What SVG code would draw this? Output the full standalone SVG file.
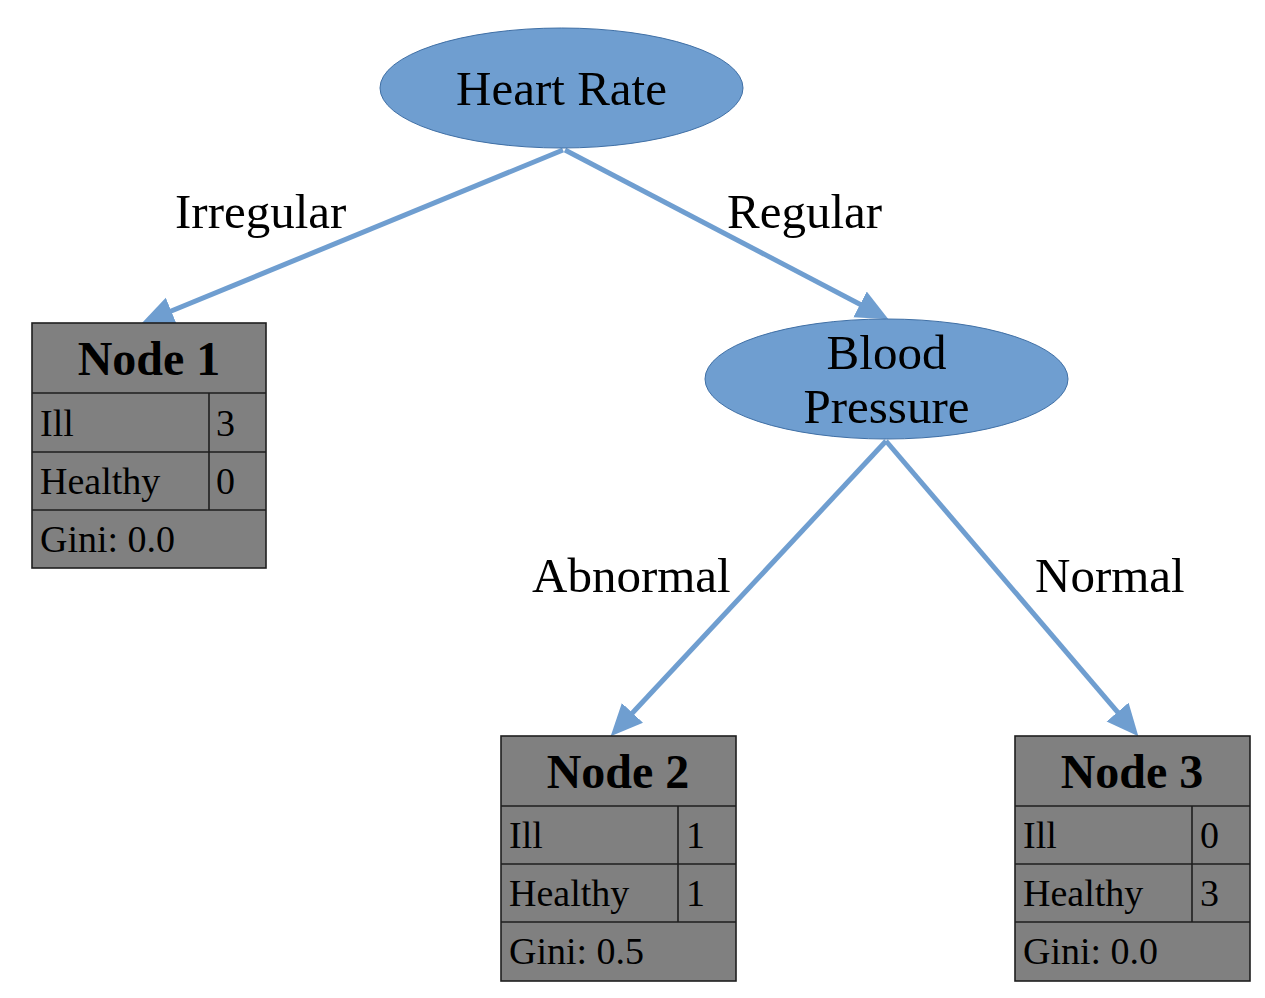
<svg xmlns="http://www.w3.org/2000/svg" width="1265" height="998" viewBox="0 0 1265 998">
<style>
.ell{fill:#6f9ed0;stroke:#3f6fa5;stroke-width:1}
.box{fill:#808080;stroke:#1e1e1e;stroke-width:1.6}
.sep{stroke:#1e1e1e;stroke-width:1.6;fill:none}
.t{font-family:"Liberation Serif","Times New Roman",serif;fill:#000}
.big{font-size:49px}
.hd{font-size:48px;font-weight:bold}
.cell{font-size:38px}
.edge{stroke:#6f9ed0;stroke-width:5;fill:none}
</style>
<defs>
<marker id="arr" markerUnits="userSpaceOnUse" markerWidth="32" markerHeight="30" viewBox="0 0 31 28" refX="16" refY="14" orient="auto">
<path d="M0,0 L31,14 L0,28 z" fill="#6f9ed0"/>
</marker>
</defs>
<rect width="1265" height="998" fill="#fff"/>
<g id="connectors">
<line class="edge" x1="563" y1="150" x2="156" y2="317.3" marker-end="url(#arr)"/>
<line class="edge" x1="565" y1="150" x2="874.7" y2="312" marker-end="url(#arr)"/>
<line class="edge" x1="886" y1="441" x2="621.2" y2="725" marker-end="url(#arr)"/>
<line class="edge" x1="886" y1="441" x2="1128.3" y2="724.6" marker-end="url(#arr)"/>
<text class="t big" x="175" y="228">Irregular</text>
<text class="t big" x="727" y="228">Regular</text>
<text class="t big" x="532" y="592">Abnormal</text>
<text class="t big" x="1035" y="592">Normal</text>
</g>
<g id="heart-rate">
<ellipse class="ell" cx="561.5" cy="88" rx="181.5" ry="60"/>
<text class="t big" x="561.5" y="105" text-anchor="middle">Heart Rate</text>
</g>
<g id="blood-pressure">
<ellipse class="ell" cx="886.5" cy="379" rx="181.5" ry="60"/>
<text class="t big" x="886.5" y="369" text-anchor="middle">Blood</text>
<text class="t big" x="886.5" y="423" text-anchor="middle">Pressure</text>
</g>
<g id="node1">
<rect class="box" x="32" y="323" width="234" height="245"/>
<path class="sep" d="M32,393 H266 M32,452 H266 M32,510 H266 M209,393 V510"/>
<text class="t hd" x="149" y="375" text-anchor="middle">Node 1</text>
<text class="t cell" x="40" y="436">Ill</text>
<text class="t cell" x="216" y="436">3</text>
<text class="t cell" x="40" y="494">Healthy</text>
<text class="t cell" x="216" y="494">0</text>
<text class="t cell" x="40" y="552">Gini: 0.0</text>
</g>
<g id="node2">
<rect class="box" x="501" y="736" width="235" height="245"/>
<path class="sep" d="M501,806 H736 M501,864 H736 M501,922 H736 M678,806 V922"/>
<text class="t hd" x="618" y="788" text-anchor="middle">Node 2</text>
<text class="t cell" x="509" y="848">Ill</text>
<text class="t cell" x="686" y="848">1</text>
<text class="t cell" x="509" y="906">Healthy</text>
<text class="t cell" x="686" y="906">1</text>
<text class="t cell" x="509" y="964">Gini: 0.5</text>
</g>
<g id="node3">
<rect class="box" x="1015" y="736" width="235" height="245"/>
<path class="sep" d="M1015,806 H1250 M1015,864 H1250 M1015,922 H1250 M1192,806 V922"/>
<text class="t hd" x="1132" y="788" text-anchor="middle">Node 3</text>
<text class="t cell" x="1023" y="848">Ill</text>
<text class="t cell" x="1200" y="848">0</text>
<text class="t cell" x="1023" y="906">Healthy</text>
<text class="t cell" x="1200" y="906">3</text>
<text class="t cell" x="1023" y="964">Gini: 0.0</text>
</g>
</svg>
